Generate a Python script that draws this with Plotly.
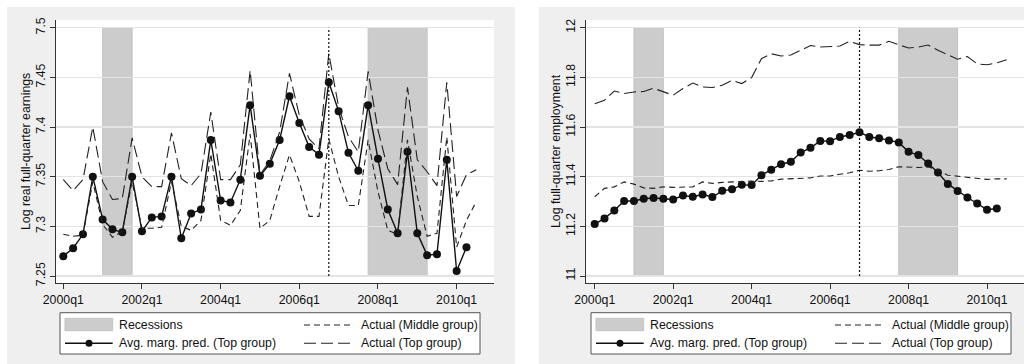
import plotly.graph_objects as go

# ---------------- data ----------------
quarters = ["2000q1", "2000q2", "2000q3", "2000q4", "2001q1", "2001q2", "2001q3", "2001q4",
            "2002q1", "2002q2", "2002q3", "2002q4", "2003q1", "2003q2", "2003q3", "2003q4",
            "2004q1", "2004q2", "2004q3", "2004q4", "2005q1", "2005q2", "2005q3", "2005q4",
            "2006q1", "2006q2", "2006q3", "2006q4", "2007q1", "2007q2", "2007q3", "2007q4",
            "2008q1", "2008q2", "2008q3", "2008q4", "2009q1", "2009q2", "2009q3", "2009q4",
            "2010q1", "2010q2", "2010q3"]
tick_labels = ["2000q1", "2002q1", "2004q1", "2006q1", "2008q1", "2010q1"]
rec_start = ["2001q1", "2007q4"]
rec_end = ["2001q4", "2009q2"]
ref_quarter = "2006q4"

# Left panel: log real full-quarter earnings
earn_pred_top = [7.270, 7.278, 7.292, 7.350, 7.307, 7.297, 7.294, 7.350, 7.295, 7.309,
                 7.310, 7.350, 7.288, 7.313, 7.317, 7.387, 7.326, 7.324, 7.347, 7.422,
                 7.351, 7.363, 7.387, 7.431, 7.404, 7.380, 7.372, 7.445, 7.416, 7.374,
                 7.356, 7.422, 7.368, 7.317, 7.293, 7.375, 7.293, 7.271, 7.272, 7.367,
                 7.255, 7.279]
earn_act_mid = [7.292, 7.290, 7.291, 7.345, 7.302, 7.289, 7.295, 7.345, 7.298, 7.298,
                7.299, 7.345, 7.300, 7.296, 7.306, 7.373, 7.306, 7.301, 7.316, 7.393,
                7.298, 7.306, 7.340, 7.372, 7.345, 7.310, 7.310, 7.388, 7.350, 7.321,
                7.321, 7.387, 7.335, 7.296, 7.292, 7.387, 7.330, 7.290, 7.293, 7.390,
                7.279, 7.306, 7.325]
earn_act_top = [7.347, 7.336, 7.347, 7.400, 7.345, 7.327, 7.328, 7.389, 7.350, 7.340,
                7.340, 7.394, 7.348, 7.341, 7.353, 7.415, 7.347, 7.347, 7.362, 7.457,
                7.352, 7.366, 7.395, 7.454, 7.412, 7.388, 7.378, 7.474, 7.420, 7.390,
                7.375, 7.456, 7.397, 7.358, 7.342, 7.440, 7.367, 7.355, 7.341, 7.445,
                7.330, 7.352, 7.357]
earn_ticks = [7.25, 7.3, 7.35, 7.4, 7.45, 7.5]
earn_tick_text = ["7.25", "7.3", "7.35", "7.4", "7.45", "7.5"]

# Right panel: log full-quarter employment
emp_pred_top = [11.209, 11.232, 11.264, 11.302, 11.302, 11.311, 11.314, 11.311, 11.308, 11.324,
                11.319, 11.328, 11.318, 11.343, 11.349, 11.367, 11.366, 11.406, 11.428, 11.450,
                11.460, 11.497, 11.516, 11.544, 11.543, 11.560, 11.568, 11.579, 11.560, 11.555,
                11.546, 11.538, 11.500, 11.487, 11.453, 11.417, 11.371, 11.342, 11.316, 11.292,
                11.267, 11.272]
emp_act_mid = [11.319, 11.353, 11.359, 11.379, 11.370, 11.355, 11.353, 11.359, 11.357, 11.358,
               11.359, 11.379, 11.373, 11.377, 11.379, 11.383, 11.382, 11.381, 11.383, 11.390,
               11.392, 11.394, 11.395, 11.403, 11.403, 11.410, 11.416, 11.426, 11.422, 11.424,
               11.429, 11.440, 11.437, 11.437, 11.440, 11.426, 11.406, 11.402, 11.397, 11.394,
               11.389, 11.391, 11.391]
emp_act_top = [11.694, 11.708, 11.745, 11.735, 11.741, 11.743, 11.756, 11.743, 11.728, 11.755,
               11.777, 11.761, 11.759, 11.768, 11.788, 11.775, 11.799, 11.875, 11.895, 11.886,
               11.890, 11.909, 11.928, 11.922, 11.923, 11.926, 11.945, 11.932, 11.930, 11.930,
               11.945, 11.932, 11.918, 11.922, 11.930, 11.909, 11.890, 11.873, 11.884, 11.854,
               11.851, 11.858, 11.871]
emp_ticks = [11, 11.2, 11.4, 11.6, 11.8, 12]
emp_tick_text = ["11", "11.2", "11.4", "11.6", "11.8", "12"]

legend_labels = ["Recessions", "Actual (Middle group)",
                 "Avg. marg. pred. (Top group)", "Actual (Top group)"]

# ---------------- style ----------------
W, H = 1024, 364
FONT = "Liberation Sans, Arial, Helvetica, sans-serif"
FS = 12.3
PANEL_BG = "#EFEFEF"
GRID = "#E4E4E4"
REC = "#CCCCCC"
INK = "#111111"
AX = "#333333"


def px(x):
    return x / W


def py(y):
    return 1 - y / H


idx = {q: i for i, q in enumerate(quarters)}
xs = list(range(len(quarters)))

fig = go.Figure()

panels = [
    dict(xa="x", ya="y", xdom=[56, 494], xr=[-0.742, 43.80], yr=[7.24295, 7.50775],
         ylo=7.25, yhi=7.5, pred=earn_pred_top, mid=earn_act_mid, top=earn_act_top,
         ticks=earn_ticks, ticktext=earn_tick_text, title="Log real full-quarter earnings",
         bg=[7, 515], title_x=25.5, off=0),
    dict(xa="x2", ya="y2", xdom=[586.3, 1024], xr=[-0.856, 43.77], yr=[10.9718, 12.031],
         ylo=11, yhi=12, pred=emp_pred_top, mid=emp_act_mid, top=emp_act_top,
         ticks=emp_ticks, ticktext=emp_tick_text, title="Log full-quarter employment",
         bg=[538.7, 1024], title_x=555.5, off=531),
]

shapes = []
annotations = []

for k, p in enumerate(panels):
    # panel background
    shapes.append(dict(type="rect", xref="paper", yref="paper", layer="below",
                       x0=px(p["bg"][0]), x1=px(p["bg"][1]), y0=0, y1=py(7),
                       fillcolor=PANEL_BG, line=dict(width=0)))
    # plot area (white)
    shapes.append(dict(type="rect", xref="paper", yref="paper", layer="below",
                       x0=px(p["xdom"][0]), x1=px(min(p["xdom"][1], W)), y0=py(283), y1=py(20),
                       fillcolor="white", line=dict(width=0)))
    # recession bars
    for s, e in zip(rec_start, rec_end):
        shapes.append(dict(type="rect", xref=p["xa"], yref=p["ya"], layer="below",
                           x0=idx[s], x1=idx[e], y0=p["ylo"], y1=p["yhi"],
                           fillcolor=REC, line=dict(color="#C4C4C4", width=1)))
    # reference vertical dotted line
    shapes.append(dict(type="line", xref=p["xa"], yref=p["ya"],
                       x0=idx[ref_quarter], x1=idx[ref_quarter], y0=p["ylo"], y1=p["yhi"],
                       line=dict(color=INK, width=1.2, dash="2px,2px")))

    # series
    fig.add_trace(go.Scatter(x=xs[:len(p["pred"])], y=p["pred"], xaxis=p["xa"], yaxis=p["ya"],
                             mode="lines+markers", line=dict(color=INK, width=1.4),
                             marker=dict(color=INK, size=8), showlegend=False,
                             name=legend_labels[2]))
    fig.add_trace(go.Scatter(x=xs[:len(p["mid"])], y=p["mid"], xaxis=p["xa"], yaxis=p["ya"],
                             mode="lines", line=dict(color="#222222", width=1.1, dash="6px,4px"),
                             showlegend=False, name=legend_labels[1]))
    fig.add_trace(go.Scatter(x=xs[:len(p["top"])], y=p["top"], xaxis=p["xa"], yaxis=p["ya"],
                             mode="lines", line=dict(color="#222222", width=1.1, dash="12px,5px"),
                             showlegend=False, name=legend_labels[3]))

    # y-axis title
    annotations.append(dict(xref="paper", yref="paper", x=px(p["title_x"]), y=py(151.5),
                            text=p["title"], textangle=-90, showarrow=False,
                            xanchor="center", yanchor="middle",
                            font=dict(family=FONT, size=FS, color=INK)))

    # legend box
    o = p["off"]
    shapes.append(dict(type="rect", xref="paper", yref="paper",
                       x0=px(60 + o), x1=px(480 + o), y0=py(354), y1=py(312.7),
                       fillcolor="white", line=dict(color="#555555", width=1)))
    shapes.append(dict(type="rect", xref="paper", yref="paper",
                       x0=px(65 + o), x1=px(112.7 + o), y0=py(330.7), y1=py(318.3),
                       fillcolor=REC, line=dict(color="#C4C4C4", width=1)))
    shapes.append(dict(type="line", xref="paper", yref="paper",
                       x0=px(65 + o), x1=px(112.7 + o), y0=py(343.3), y1=py(343.3),
                       line=dict(color=INK, width=1.4)))
    shapes.append(dict(type="circle", xref="paper", yref="paper",
                       x0=px(85.5 + o), x1=px(92.5 + o), y0=py(346.8), y1=py(339.8),
                       fillcolor=INK, line=dict(color=INK, width=0)))
    shapes.append(dict(type="line", xref="paper", yref="paper",
                       x0=px(304 + o), x1=px(353.3 + o), y0=py(325), y1=py(325),
                       line=dict(color="#222222", width=1.1, dash="6px,4px")))
    shapes.append(dict(type="line", xref="paper", yref="paper",
                       x0=px(304 + o), x1=px(353.3 + o), y0=py(343.3), y1=py(343.3),
                       line=dict(color="#222222", width=1.1, dash="12px,5px")))
    for txt, lx, ly in [(legend_labels[0], 117.3, 325), (legend_labels[1], 358.7, 325),
                        (legend_labels[2], 117.3, 343.3), (legend_labels[3], 358.7, 343.3)]:
        annotations.append(dict(xref="paper", yref="paper", x=px(lx + o), y=py(ly),
                                text=txt, showarrow=False, xanchor="left", yanchor="middle",
                                font=dict(family=FONT, size=FS, color=INK)))

tickvals = [idx[t] for t in tick_labels]

axis_common_x = dict(tickmode="array", tickvals=tickvals, ticktext=tick_labels,
                     showgrid=False, zeroline=False, showline=True, linecolor=AX, linewidth=1,
                     ticks="outside", ticklen=5, tickcolor=AX, tickwidth=1, automargin=False,
                     tickfont=dict(family=FONT, size=FS, color=INK))
axis_common_y = dict(tickmode="array", showgrid=True, gridcolor=GRID, gridwidth=1.2,
                     zeroline=False, showline=True, linecolor=AX, linewidth=1,
                     ticks="outside", ticklen=5, tickcolor=AX, tickwidth=1, tickangle=-90,
                     automargin=False,
                     tickfont=dict(family=FONT, size=FS, color=INK))

fig.update_layout(
    width=W, height=H, margin=dict(l=0, r=0, t=0, b=0, pad=0, autoexpand=False),
    paper_bgcolor="white", plot_bgcolor="rgba(0,0,0,0)",
    showlegend=False, hovermode=False,
    xaxis=dict(domain=[px(56), px(494)], range=panels[0]["xr"], anchor="y", **axis_common_x),
    yaxis=dict(domain=[py(283), py(20)], range=panels[0]["yr"], anchor="x",
               tickvals=earn_ticks, ticktext=earn_tick_text, **axis_common_y),
    xaxis2=dict(domain=[px(586.3), 1.0], range=panels[1]["xr"], anchor="y2", **axis_common_x),
    yaxis2=dict(domain=[py(283), py(20)], range=panels[1]["yr"], anchor="x2",
                tickvals=emp_ticks, ticktext=emp_tick_text, **axis_common_y),
    shapes=shapes, annotations=annotations,
)

fig.write_html("out.html", config={"displayModeBar": False, "staticPlot": True},
               post_script="document.body.style.margin='0';document.body.style.overflow='hidden';")
